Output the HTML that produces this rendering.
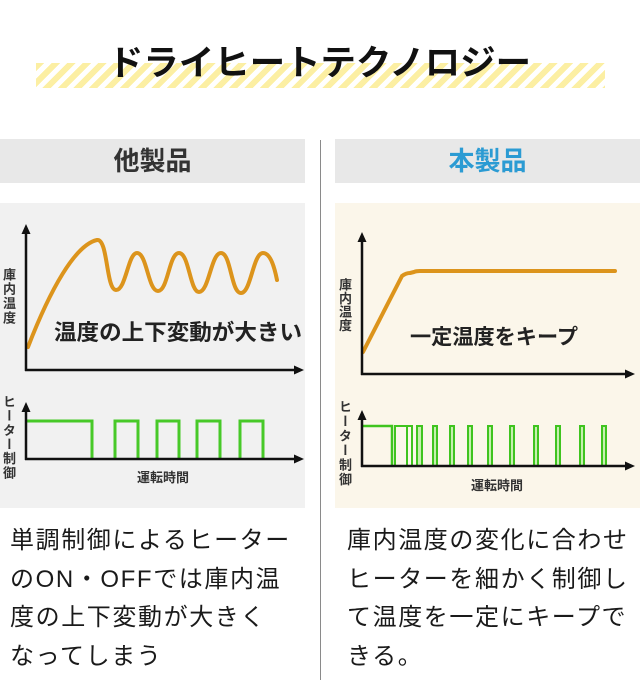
<!DOCTYPE html>
<html><head><meta charset="utf-8">
<style>
html,body{margin:0;padding:0;background:#fff;}
body{width:640px;height:697px;position:relative;overflow:hidden;font-family:"Liberation Sans","Noto Sans CJK JP",sans-serif;}
.abs{position:absolute;}
.stripe{left:36px;top:63px;width:569px;height:25px;background:repeating-linear-gradient(135deg,#fcefa3 0 6px,rgba(255,255,255,0) 6px 11px);}
.hdr{top:139px;height:44px;background:#e8e8e8;font-weight:700;font-size:26px;line-height:44px;text-align:center;}
.vlab{writing-mode:vertical-rl;text-orientation:upright;font-size:13px;line-height:13px;font-weight:700;color:#333;white-space:nowrap;}
.para{font-size:24px;line-height:38.5px;letter-spacing:1.6px;color:#1a1a1a;white-space:nowrap;}
</style></head>
<body>
<div class="abs stripe"></div>
<svg class="abs" style="left:0;top:0" width="640" height="697" viewBox="0 0 640 697">
  <text x="108" y="75" font-size="35" font-weight="700" fill="#111" textLength="423" lengthAdjust="spacingAndGlyphs" font-family="Liberation Sans, Noto Sans CJK JP, sans-serif">ドライヒートテクノロジー</text>
</svg>
<div class="abs hdr" style="left:0;width:305px;color:#333;">他製品</div>
<div class="abs hdr" style="left:335px;width:305px;color:#2b9bd3;">本製品</div>
<div class="abs" style="left:320px;top:140px;width:1px;height:540px;background:#8a8a8a;"></div>

<div class="abs" style="left:0;top:203px;width:305px;height:305px;background:#f1f1f1;"></div>
<div class="abs" style="left:335px;top:203px;width:305px;height:305px;background:#fbf6ea;"></div>

<svg class="abs" style="left:0;top:0" width="640" height="697" viewBox="0 0 640 697" font-family="Liberation Sans, Noto Sans CJK JP, sans-serif">
  <!-- left upper chart -->
  <path d="M28,347 C50,290 75,245 97,240 C108,238 106,290 116,290 C126,290 128,253 137,253 C147,253 148,291 158,291 C168,291 169,253 179,253 C189,253 190,292 199,292 C209,292 211,253 221,253 C231,253 231,293 241,293 C251,293 253,253 263,253 C271,253 275,270 277,280" fill="none" stroke="#dc941c" stroke-width="4" stroke-linecap="round"/>
  <line x1="26" y1="371" x2="26" y2="232" stroke="#111" stroke-width="2.5"/>
  <polygon points="26,224 21.5,234 30.5,234" fill="#111"/>
  <line x1="25" y1="370" x2="296" y2="370" stroke="#111" stroke-width="2.5"/>
  <polygon points="304,370 294,365.5 294,374.5" fill="#111"/>
  <text x="54" y="340" font-size="22" font-weight="700" fill="#222" textLength="248" lengthAdjust="spacingAndGlyphs">温度の上下変動が大きい</text>
  <!-- left lower chart -->
  <path d="M26,421 H92 V459 M115,459 V421 H138 V459 M157,459 V421 H179 V459 M197,459 V421 H220 V459 M240,459 V421 H263 V459" fill="none" stroke="#47c928" stroke-width="3"/>
  <line x1="26" y1="460" x2="26" y2="410" stroke="#111" stroke-width="2.5"/>
  <polygon points="26,402 21.5,412 30.5,412" fill="#111"/>
  <line x1="25" y1="459" x2="296" y2="459" stroke="#111" stroke-width="2.5"/>
  <polygon points="304,459 294,454.5 294,463.5" fill="#111"/>
  <text x="163" y="482" font-size="13" font-weight="700" fill="#333" text-anchor="middle">運転時間</text>

  <!-- right upper chart -->
  <path d="M363,352 L402,276 Q406,273 410,273 L414,272 Q416,271 420,271 L615,271" fill="none" stroke="#dc941c" stroke-width="4" stroke-linecap="round" stroke-linejoin="round"/>
  <line x1="362" y1="375" x2="362" y2="240" stroke="#111" stroke-width="2.5"/>
  <polygon points="362,232 357.5,242 366.5,242" fill="#111"/>
  <line x1="361" y1="374" x2="627" y2="374" stroke="#111" stroke-width="2.5"/>
  <polygon points="635,374 625,369.5 625,378.5" fill="#111"/>
  <text x="410" y="344" font-size="21" font-weight="700" fill="#222" textLength="168" lengthAdjust="spacingAndGlyphs">一定温度をキープ</text>
  <!-- right lower chart -->
  <g fill="#c6efaf" stroke="#3fc41f" stroke-width="2">
    <rect x="395" y="426" width="17" height="40" fill="none"/>
    <line x1="407" y1="426" x2="407" y2="466"/>
    <rect x="417" y="426" width="5" height="40"/>
    <rect x="433" y="426" width="4" height="40"/>
    <rect x="450" y="426" width="4" height="40"/>
    <rect x="468" y="426" width="4" height="40"/>
    <rect x="488" y="426" width="4" height="40"/>
    <rect x="510" y="426" width="4" height="40"/>
    <rect x="534" y="426" width="4" height="40"/>
    <rect x="556" y="426" width="4" height="40"/>
    <rect x="580" y="426" width="4" height="40"/>
    <rect x="602" y="426" width="4" height="40"/>
  </g>
  <path d="M362,426 H392 V466" fill="none" stroke="#3fc41f" stroke-width="2.5"/>
  <line x1="362" y1="467" x2="362" y2="418" stroke="#111" stroke-width="2.5"/>
  <polygon points="362,410 357.5,420 366.5,420" fill="#111"/>
  <line x1="361" y1="466" x2="627" y2="466" stroke="#111" stroke-width="2.5"/>
  <polygon points="635,466 625,461.5 625,470.5" fill="#111"/>
  <text x="497" y="490" font-size="13" font-weight="700" fill="#333" text-anchor="middle">運転時間</text>
</svg>

<div class="abs vlab" style="left:2px;top:268px;letter-spacing:1.3px;">庫内温度</div>
<div class="abs vlab" style="left:2px;top:395px;letter-spacing:1.2px;">ヒーター制御</div>
<div class="abs vlab" style="left:338px;top:278px;letter-spacing:0.6px;">庫内温度</div>
<div class="abs vlab" style="left:338px;top:400px;letter-spacing:1.5px;">ヒーター制御</div>

<div class="abs para" style="left:10px;top:522px;">単調制御によるヒーター<br>のON・OFFでは庫内温<br>度の上下変動が大きく<br>なってしまう</div>
<div class="abs para" style="left:347px;top:522px;">庫内温度の変化に合わせ<br>ヒーターを細かく制御し<br>て温度を一定にキープで<br>きる。</div>
</body></html>
